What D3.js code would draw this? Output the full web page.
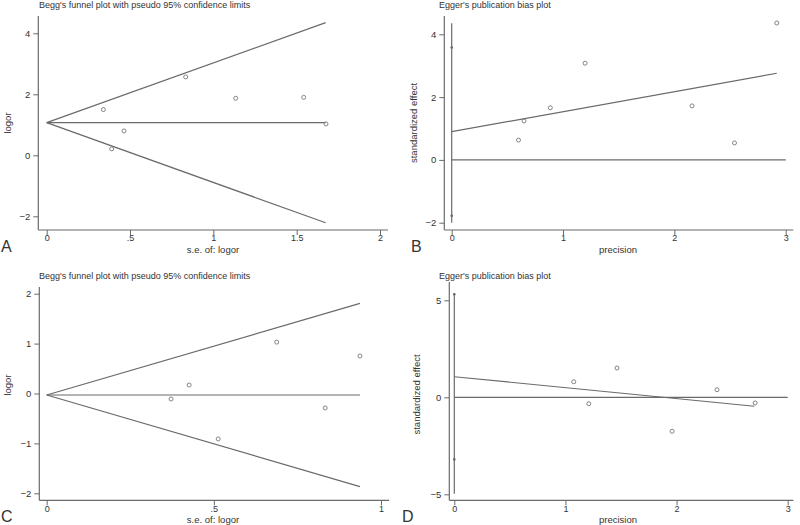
<!DOCTYPE html>
<html><head><meta charset="utf-8">
<script src="https://cdn.jsdelivr.net/npm/d3@7"></script>
<style>body{margin:0;background:#fff}svg{display:block}text{font-family:"Liberation Sans",Arial,sans-serif;fill:#333}</style>
</head><body><svg id="c" width="800" height="525"></svg>
<script>
// Panel A: Begg's funnel plot
const aSe = [0.34, 0.39, 0.464, 0.834, 1.134, 1.542, 1.676];
const aLogor = [1.50, 0.21, 0.80, 2.57, 1.87, 1.90, 1.03];
const aPooled = 1.07, aSeMax = 1.674;
const aXTicks = [0, 0.5, 1, 1.5, 2], aXLabels = ["0", ".5", "1", "1.5", "2"];
const aYTicks = [-2, 0, 2, 4];
// Panel B: Egger's plot
const bPrecision = [0.60, 0.65, 0.886, 1.198, 2.159, 2.54, 2.92];
const bEffect = [0.63, 1.24, 1.66, 3.08, 1.72, 0.54, 4.36];
const bIntercept = 0.90, bSlope = 0.637, bXMax = 2.92;
const bSpike = [-2.0, 4.35], bCI = [-1.78, 3.58];
const bXTicks = [0, 1, 2, 3], bYTicks = [-2, 0, 2, 4];
// Panel C: Begg's funnel plot
const cSe = [0.372, 0.426, 0.513, 0.688, 0.833, 0.937];
const cLogor = [-0.11, 0.17, -0.91, 1.03, -0.29, 0.75];
const cPooled = -0.03, cSeMax = 0.937;
const cXTicks = [0, 0.5, 1], cXLabels = ["0", ".5", "1"];
const cYTicks = [-2, -1, 0, 1, 2];
// Panel D: Egger's plot
const dPrecision = [1.075, 1.21, 1.464, 1.96, 2.364, 2.707];
const dEffect = [0.80, -0.33, 1.51, -1.75, 0.39, -0.29];
const dIntercept = 1.06, dSlope = -0.563, dXMax = 2.70;
const dSpike = [-4.97, 5.34], dCI = [-3.2, 5.31];
const dXTicks = [0, 1, 2, 3], dYTicks = [-5, 0, 5];

const svg = d3.select("#c");
const LINE = "#6a6a6a";

function panel(o) {
  const g = svg.append("g");
  const x = d3.scaleLinear().domain(o.xd).range(o.xr);
  const y = d3.scaleLinear().domain(o.yd).range(o.yr);
  const xa = d3.axisBottom(x).tickValues(o.xt).tickSize(5).tickPadding(0)
    .tickFormat((d, i) => o.xl ? o.xl[i] : d3.format("d")(d));
  const ya = d3.axisLeft(y).tickValues(o.yt).tickSize(5).tickPadding(3).tickFormat(d3.format("d"));
  const gx = g.append("g").attr("transform", `translate(0,${o.ax})`).call(xa);
  const gy = g.append("g").attr("transform", `translate(${o.ay},0)`).call(ya);
  [gx, gy].forEach((a, k) => {
    a.select(".domain").remove();
    a.selectAll("line").attr("stroke", LINE);
    a.selectAll("text").attr("font-size", k === 0 ? 9 : 9.5).style("fill", "#333")
      .attr("font-family", '"Liberation Sans",Arial,sans-serif');
  });
  g.append("line").attr("x1", o.ay).attr("x2", o.axEnd).attr("y1", o.ax).attr("y2", o.ax).attr("stroke", LINE).attr("stroke-width", 1.2);
  g.append("line").attr("x1", o.ay).attr("x2", o.ay).attr("y1", o.ayTop).attr("y2", o.ax).attr("stroke", LINE).attr("stroke-width", 1.2);
  o.draw(g, x, y);
  g.append("text").attr("x", o.titleX).attr("y", o.titleY).attr("font-size", 9).text(o.title);
  g.append("text").attr("x", o.xTitleX).attr("y", o.xTitleY).attr("text-anchor", "middle").attr("font-size", 9.5).text(o.xTitle);
  g.append("text").attr("transform", `translate(${o.yTitleX},${o.yTitleY}) rotate(-90)`)
    .attr("text-anchor", "middle").attr("font-size", 9.5).text(o.yTitle);
  g.append("text").attr("x", o.letterX).attr("y", o.letterY).attr("font-size", 16).text(o.letter);
}

function pts(g, xs, ys, x, y) {
  g.selectAll(null).data(xs).join("circle")
    .attr("cx", d => x(d)).attr("cy", (d, i) => y(ys[i])).attr("r", 2)
    .attr("fill", "none").attr("stroke", "#777").attr("stroke-width", 0.9);
}
function seg(g, x, y, x1, y1, x2, y2) {
  g.append("line").attr("x1", x(x1)).attr("y1", y(y1)).attr("x2", x(x2)).attr("y2", y(y2))
    .attr("stroke", LINE).attr("stroke-width", 1.2);
}
function funnel(se, lo, pooled, seMax) {
  return (g, x, y) => {
    seg(g, x, y, 0, pooled, seMax, pooled + 1.96 * seMax);
    seg(g, x, y, 0, pooled, seMax, pooled - 1.96 * seMax);
    seg(g, x, y, 0, pooled, seMax, pooled);
    pts(g, se, lo, x, y);
  };
}
function egger(pr, ef, b0, b1, xmax, spike, ci, xTop) {
  return (g, x, y) => {
    seg(g, x, y, 0, 0, xTop, 0);
    seg(g, x, y, 0, spike[0], 0, spike[1]);
    seg(g, x, y, 0, b0, xmax, b0 + b1 * xmax);
    g.selectAll(null).data(ci).join("circle").attr("cx", x(0)).attr("cy", d => y(d)).attr("r", 1.3)
      .attr("fill", "#666");
    pts(g, pr, ef, x, y);
  };
}

panel({xd: [0, 2], xr: [46.7, 380], yd: [-2, 4], yr: [216.3, 33.3], xt: aXTicks, xl: aXLabels, yt: aYTicks,
  ax: 230, ay: 38.3, axEnd: 388, ayTop: 16,
  title: "Begg's funnel plot with pseudo 95% confidence limits", titleX: 39, titleY: 7.5,
  xTitle: "s.e. of: logor", xTitleX: 213, xTitleY: 252.5, yTitle: "logor", yTitleX: 11, yTitleY: 123,
  letter: "A", letterX: 1, letterY: 252, draw: funnel(aSe, aLogor, aPooled, aSeMax)});
panel({xd: [0, 3], xr: [451.7, 785.7], yd: [-2, 4], yr: [222.7, 34.3], xt: bXTicks, yt: bYTicks,
  ax: 230, ay: 444.3, axEnd: 793.3, ayTop: 16,
  title: "Egger's publication bias plot", titleX: 439, titleY: 7.5,
  xTitle: "precision", xTitleX: 618, xTitleY: 252.5, yTitle: "standardized effect", yTitleX: 417, yTitleY: 123,
  letter: "B", letterX: 411, letterY: 252,
  draw: egger(bPrecision, bEffect, bIntercept, bSlope, bXMax, bSpike, bCI, 3)});
panel({xd: [0, 1], xr: [46.7, 381], yd: [-2, 2], yr: [493.3, 293.7], xt: cXTicks, xl: cXLabels, yt: cYTicks,
  ax: 500.3, ay: 39.3, axEnd: 389, ayTop: 287,
  title: "Begg's funnel plot with pseudo 95% confidence limits", titleX: 39, titleY: 279,
  xTitle: "s.e. of: logor", xTitleX: 213, xTitleY: 522.5, yTitle: "logor", yTitleX: 11, yTitleY: 385,
  letter: "C", letterX: 1, letterY: 521.5, draw: funnel(cSe, cLogor, cPooled, cSeMax)});
panel({xd: [0, 3], xr: [454.3, 787.7], yd: [-5, 5], yr: [494.3, 300.3], xt: dXTicks, yt: dYTicks,
  ax: 500.3, ay: 449.3, axEnd: 793.3, ayTop: 282,
  title: "Egger's publication bias plot", titleX: 439, titleY: 279,
  xTitle: "precision", xTitleX: 618, xTitleY: 522.5, yTitle: "standardized effect", yTitleX: 420, yTitleY: 394.5,
  letter: "D", letterX: 402, letterY: 521.5,
  draw: egger(dPrecision, dEffect, dIntercept, dSlope, dXMax, dSpike, dCI, 3)});
</script></body></html>
